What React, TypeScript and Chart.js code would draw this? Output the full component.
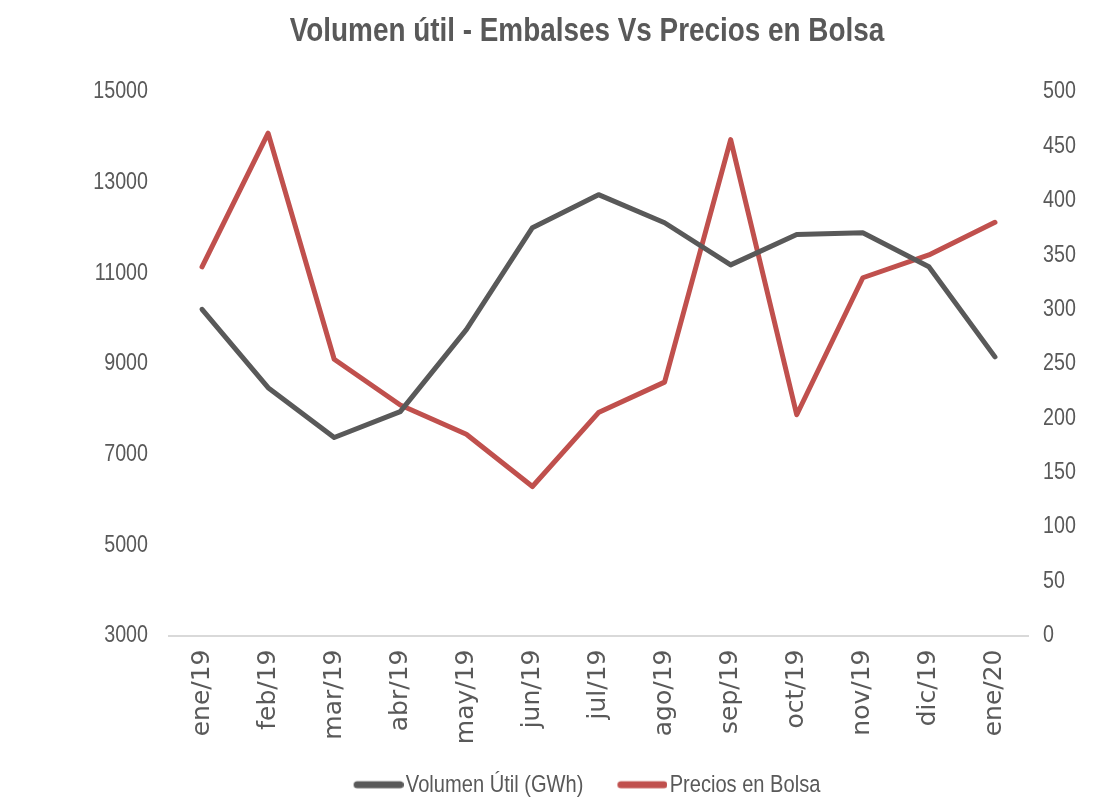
import React, { useEffect, useRef } from "react";
import { Chart, registerables } from "chart.js";

Chart.register(...registerables);

// ---- data ----
const categories = [
  "ene/19", "feb/19", "mar/19", "abr/19", "may/19", "jun/19", "jul/19",
  "ago/19", "sep/19", "oct/19", "nov/19", "dic/19", "ene/20",
];
const volumenUtil = [10200, 8470, 7370, 7940, 9750, 12000, 12730, 12110, 11180, 11850, 11890, 11140, 9150];
const preciosBolsa = [339, 462, 254, 212, 185, 137, 205, 233, 456, 203, 329, 350, 380];

const volumeAxis = { min: 3000, max: 15000, step: 2000 };
const priceAxis = { min: 0, max: 500, step: 50 };

const titleText = "Volumen útil - Embalses Vs Precios en Bolsa";
const seriesNames = ["Volumen Útil (GWh)", "Precios en Bolsa"];
const seriesColors = ["#595959", "#C0504D"];

// "narrow" text: Liberation Sans drawn horizontally condensed (like Arial Narrow)
const NARROW = "'Liberation Sans', sans-serif";
const CONDENSE = 0.82;
const WIDE = "'DejaVu Sans', sans-serif";
const TEXT = "#595959";

function legendSwatch(color: string): HTMLCanvasElement {
  const c = document.createElement("canvas");
  c.width = 60;
  c.height = 12;
  const ctx = c.getContext("2d")!;
  ctx.strokeStyle = color;
  ctx.lineWidth = 7;
  ctx.lineCap = "round";
  ctx.beginPath();
  ctx.moveTo(10 + 3.5, 6);
  ctx.lineTo(60 - 3.5, 6);
  ctx.stroke();
  return c;
}

function condenseContext(ctx: CanvasRenderingContext2D) {
  const origFill = ctx.fillText.bind(ctx);
  const origMeasure = ctx.measureText.bind(ctx);
  const isNarrow = () => ctx.font.indexOf("Liberation Sans") >= 0;
  (ctx as any).fillText = (text: string, x: number, y: number, maxWidth?: number) => {
    if (isNarrow()) {
      const w = origMeasure(text).width * CONDENSE;
      const mw = maxWidth !== undefined ? Math.min(maxWidth, w) : w;
      return origFill(text, x, y, Math.max(mw, 0.01));
    }
    return maxWidth !== undefined ? origFill(text, x, y, maxWidth) : origFill(text, x, y);
  };
  (ctx as any).measureText = (text: string) => {
    const m = origMeasure(text);
    if (!isNarrow()) return m;
    return {
      width: m.width * CONDENSE,
      actualBoundingBoxLeft: m.actualBoundingBoxLeft * CONDENSE,
      actualBoundingBoxRight: m.actualBoundingBoxRight * CONDENSE,
      actualBoundingBoxAscent: m.actualBoundingBoxAscent,
      actualBoundingBoxDescent: m.actualBoundingBoxDescent,
      fontBoundingBoxAscent: m.fontBoundingBoxAscent,
      fontBoundingBoxDescent: m.fontBoundingBoxDescent,
    };
  };
}

// let the rotated category labels run past the reserved axis box (no clipping)
const unclipXLabels = {
  id: "unclipXLabels",
  afterLayout(chart: any) {
    const xs = chart.scales.x;
    if (xs) xs.bottom = chart.height;
  },
};

export default function App() {
  const ref = useRef<HTMLCanvasElement | null>(null);

  useEffect(() => {
    if (!ref.current) return;
    const ctx = ref.current.getContext("2d")!;
    condenseContext(ctx);
    const swatches = seriesColors.map(legendSwatch);
    const chart = new Chart(ctx, {
      type: "line",
      data: {
        labels: categories,
        datasets: [
          {
            label: seriesNames[0],
            data: volumenUtil,
            borderColor: seriesColors[0],
            backgroundColor: seriesColors[0],
            borderWidth: 5,
            borderJoinStyle: "round",
            borderCapStyle: "round",
            pointRadius: 0,
            tension: 0,
            yAxisID: "y",
          },
          {
            label: seriesNames[1],
            data: preciosBolsa,
            borderColor: seriesColors[1],
            backgroundColor: seriesColors[1],
            borderWidth: 5,
            borderJoinStyle: "round",
            borderCapStyle: "round",
            pointRadius: 0,
            tension: 0,
            yAxisID: "y1",
          },
        ],
      },
      plugins: [unclipXLabels],
      options: {
        responsive: false,
        animation: false,
        layout: { padding: { left: 80, right: 0, top: 0, bottom: -7 } },
        plugins: {
          tooltip: { enabled: false },
          title: {
            display: true,
            text: titleText,
            color: TEXT,
            font: { family: NARROW, size: 34, weight: "bold" },
            padding: { top: 11, bottom: 40 },
          },
          legend: {
            display: true,
            position: "bottom",
            labels: {
              color: TEXT,
              font: { family: NARROW, size: 24.5 },
              usePointStyle: true,
              pointStyleWidth: 40,
              padding: 34,
              generateLabels: (ch: any) => {
                const items = Chart.defaults.plugins.legend.labels.generateLabels(ch);
                return items.map((it: any, i: number) => ({ ...it, pointStyle: swatches[i] }));
              },
            },
          },
        },
        scales: {
          x: {
            offset: true,
            grid: { display: false, drawTicks: false },
            border: { display: true, color: "#d9d9d9", width: 2 },
            ticks: {
              color: TEXT,
              font: { family: WIDE, size: 25 },
              minRotation: 90,
              maxRotation: 90,
              padding: 14,
              autoSkip: false,
            },
            afterFit: (s: any) => {
              s.height = 103;
            },
          },
          y: {
            position: "left",
            min: volumeAxis.min,
            max: volumeAxis.max,
            grid: { display: false, drawTicks: false },
            border: { display: false },
            ticks: {
              stepSize: volumeAxis.step,
              color: TEXT,
              font: { family: NARROW, size: 24 },
              padding: 21,
              callback: (v: any) => String(v),
            },
            afterFit: (s: any) => {
              s.width = 89;
            },
          },
          y1: {
            position: "right",
            min: priceAxis.min,
            max: priceAxis.max,
            grid: { display: false, drawTicks: false },
            border: { display: false },
            ticks: {
              stepSize: priceAxis.step,
              color: TEXT,
              font: { family: NARROW, size: 24 },
              padding: 15,
              callback: (v: any) => String(v),
            },
            afterFit: (s: any) => {
              s.width = 66;
            },
          },
        },
      },
    });
    return () => chart.destroy();
  }, []);

  return (
    <div style={{ position: "fixed", left: 0, top: 0, width: 1094, height: 800, background: "#fff" }}>
      <canvas ref={ref} width={1094} height={800} style={{ width: 1094, height: 800, display: "block" }} />
    </div>
  );
}
